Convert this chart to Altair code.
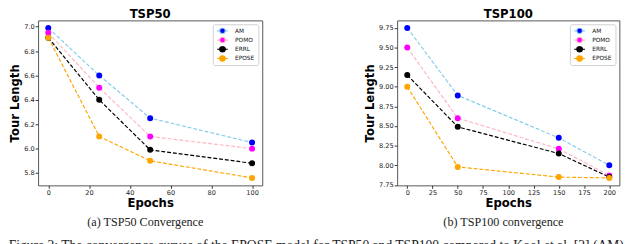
import altair as alt
import pandas as pd

series = ["AM", "POMO", "ERRL", "EPOSE"]
line_colors = ["#87CEEB", "#FFB6C1", "#000000", "#FFA500"]
marker_colors = ["#0000FF", "#FF00FF", "#000000", "#FFA500"]
line_widths = [1.2, 1.2, 1.7, 1.7]
marker_sizes = [38, 38, 50, 60]

epochs50 = [0, 25, 50, 100]
am50 = [6.99, 6.60, 6.25, 6.05]
pomo50 = [6.95, 6.50, 6.10, 6.00]
errl50 = [6.91, 6.40, 5.99, 5.88]
epose50 = [6.91, 6.10, 5.90, 5.76]

epochs100 = [0, 50, 150, 200]
am100 = [9.75, 8.89, 8.35, 8.00]
pomo100 = [9.50, 8.60, 8.21, 7.87]
errl100 = [9.15, 8.49, 8.15, 7.85]
epose100 = [9.00, 7.98, 7.85, 7.84]

xticks50 = [0, 20, 40, 60, 80, 100]
yticks50 = [5.8, 6.0, 6.2, 6.4, 6.6, 6.8, 7.0]
xticks100 = [0, 25, 50, 75, 100, 125, 150, 175, 200]
yticks100 = [7.75, 8.00, 8.25, 8.50, 8.75, 9.00, 9.25, 9.50, 9.75]

fig_caption = "Figure 2:  The convergence curves of the EPOSE model for TSP50 and TSP100 compared to Kool et al. [2] (AM),"

LEGEND_PATH = "M-1.8,0H-0.95M0.95,0H1.8M-0.95,0A0.95,0.95,0,1,1,0.95,0A0.95,0.95,0,1,1,-0.95,0Z"


def make_df(epochs, vals):
    rows = []
    for s, v in zip(series, vals):
        for e, y in zip(epochs, v):
            rows.append({"Epoch": e, "Length": y, "Method": s})
    return pd.DataFrame(rows)


def margin_domain(vals, frac=0.05):
    lo = min(min(v) for v in vals)
    hi = max(max(v) for v in vals)
    m = (hi - lo) * frac
    return [lo - m, hi + m]


def panel(epochs, vals, title, caption, xticks, yticks, yfmt, width, height):
    df = make_df(epochs, vals)
    xdom = margin_domain([epochs])
    ydom = margin_domain(vals)
    x = alt.X("Epoch:Q", scale=alt.Scale(domain=xdom, nice=False, zero=False),
              axis=alt.Axis(values=xticks, title="Epochs", format="d"))
    y = alt.Y("Length:Q", scale=alt.Scale(domain=ydom, nice=False, zero=False),
              axis=alt.Axis(values=yticks, title="Tour Length", format=yfmt))
    leg = alt.Legend(title=None, orient="top-right", symbolSize=36, clipHeight=6.5,
                     rowPadding=2.5, symbolType=LEGEND_PATH)
    base = alt.Chart(df)
    lines = base.mark_line(strokeDash=[4, 2]).encode(
        x=x, y=y,
        stroke=alt.Stroke("Method:N", scale=alt.Scale(domain=series, range=line_colors), legend=leg),
        strokeWidth=alt.StrokeWidth("Method:N", scale=alt.Scale(domain=series, range=line_widths), legend=None),
    )
    points = base.mark_point(filled=True, opacity=1).encode(
        x=x, y=y,
        fill=alt.Fill("Method:N", scale=alt.Scale(domain=series, range=marker_colors), legend=leg),
        size=alt.Size("Method:N", scale=alt.Scale(domain=series, range=marker_sizes), legend=None),
    )
    cap = alt.Chart(pd.DataFrame({"t": [caption]})).mark_text(
        font="Liberation Serif", fontSize=12.5, color="#222", baseline="middle"
    ).encode(text="t:N", x=alt.value(width / 2 - 5), y=alt.value(height + 38))
    return alt.layer(lines, points, cap).properties(
        width=width, height=height,
        title=alt.TitleParams(title, fontSize=12, font="DejaVu Sans", fontWeight="bold", offset=-1, color="#000"),
    )


H = 170
left = panel(epochs50, [am50, pomo50, errl50, epose50], "TSP50", "(a) TSP50 Convergence",
             xticks50, yticks50, ".1f", 231, H)
right = panel(epochs100, [am100, pomo100, errl100, epose100], "TSP100", "(b) TSP100 convergence",
              xticks100, yticks100, ".2f", 229, H)

chart = alt.hconcat(left, right, spacing=103).resolve_scale(
    x="independent", y="independent", stroke="independent", fill="independent",
    strokeWidth="independent", size="independent",
).resolve_legend(stroke="independent", fill="independent").properties(
    title=alt.TitleParams(fig_caption, orient="bottom", anchor="start", font="Liberation Serif",
                          fontSize=14, fontWeight="normal", color="#222", offset=11),
    padding={"left": 0, "top": -4, "right": 0, "bottom": 0},
).configure_view(stroke="#555", strokeWidth=1).configure_axis(
    domain=False, grid=False, tickColor="#333", tickSize=3, labelPadding=1,
    labelFont="DejaVu Sans", labelFontSize=6.8, labelColor="#222",
    titleFont="DejaVu Sans", titleFontSize=12, titleFontWeight="bold", titleColor="#000",
    titlePadding=2,
).configure_legend(
    padding=3.5, offset=4, strokeColor="#d0d0d0", fillColor="white", cornerRadius=2,
    labelFont="DejaVu Sans", labelFontSize=6, labelColor="#111", labelOffset=9,
    symbolStrokeWidth=1, symbolOffset=2.5,
)

chart.save("out.html", embed_options={"renderer": "svg", "actions": False})
